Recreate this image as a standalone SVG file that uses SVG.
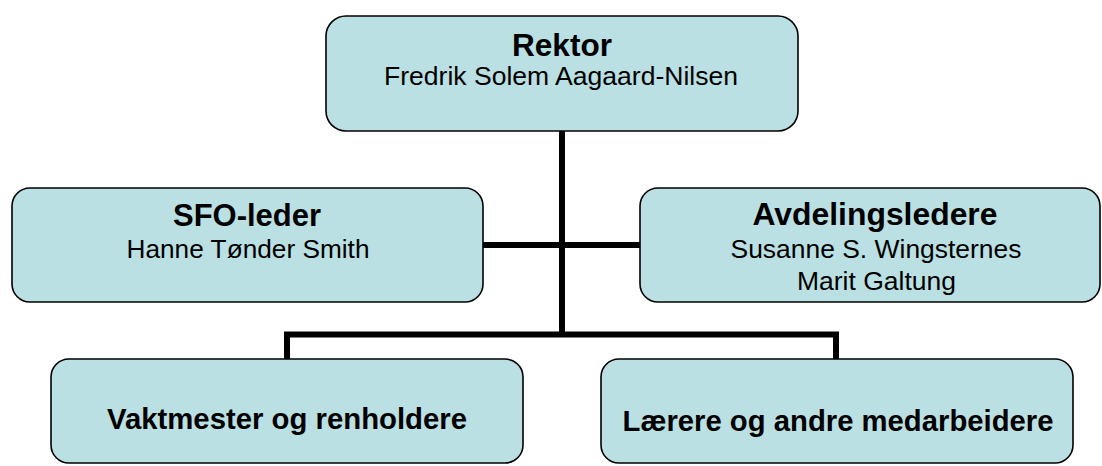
<svg xmlns="http://www.w3.org/2000/svg" width="1102" height="466" viewBox="0 0 1102 466">
<style>
.box{fill:#BBE0E3;stroke:#000;stroke-width:1.6}
.t{font-family:"Liberation Sans",Arial,sans-serif;fill:#000;text-anchor:middle}
.b{font-weight:bold;font-size:31.5px}
.bs{font-weight:bold;font-size:29px}
.r{font-size:26px}
.conn{fill:none;stroke:#000;stroke-width:6;stroke-linejoin:miter;stroke-linecap:butt}
</style>
<rect width="1102" height="466" fill="#fff"/>
<g id="connectors">
<path class="conn" d="M562,131 V337"/>
<path class="conn" d="M483,245 H640"/>
<path class="conn" d="M287,359 V334.5 H836 V359"/>
</g>
<g id="rektor">
<rect class="box" x="326" y="16" width="472" height="115" rx="20"/>
<text class="t b" x="562" y="56" textLength="100" lengthAdjust="spacingAndGlyphs">Rektor</text>
<text class="t r" x="561" y="85" textLength="354" lengthAdjust="spacingAndGlyphs">Fredrik Solem Aagaard-Nilsen</text>
</g>
<g id="sfo">
<rect class="box" x="12" y="188" width="471" height="114" rx="18"/>
<text class="t b" x="247" y="226" textLength="148" lengthAdjust="spacingAndGlyphs">SFO-leder</text>
<text class="t r" x="248" y="258" textLength="243" lengthAdjust="spacingAndGlyphs">Hanne Tønder Smith</text>
</g>
<g id="avdeling">
<rect class="box" x="640" y="188" width="460" height="114" rx="18"/>
<text class="t b" x="875" y="225" textLength="245" lengthAdjust="spacingAndGlyphs">Avdelingsledere</text>
<text class="t r" x="876" y="258" textLength="291" lengthAdjust="spacingAndGlyphs">Susanne S. Wingsternes</text>
<text class="t r" x="876.5" y="289.5" textLength="159" lengthAdjust="spacingAndGlyphs">Marit Galtung</text>
</g>
<g id="vaktmester">
<rect class="box" x="51" y="359" width="472" height="104" rx="18"/>
<text class="t bs" x="287" y="429" textLength="360" lengthAdjust="spacingAndGlyphs">Vaktmester og renholdere</text>
</g>
<g id="laerere">
<rect class="box" x="601" y="359" width="472" height="104" rx="18"/>
<text class="t bs" x="838" y="430.5" textLength="431" lengthAdjust="spacingAndGlyphs">Lærere og andre medarbeidere</text>
</g>
</svg>
